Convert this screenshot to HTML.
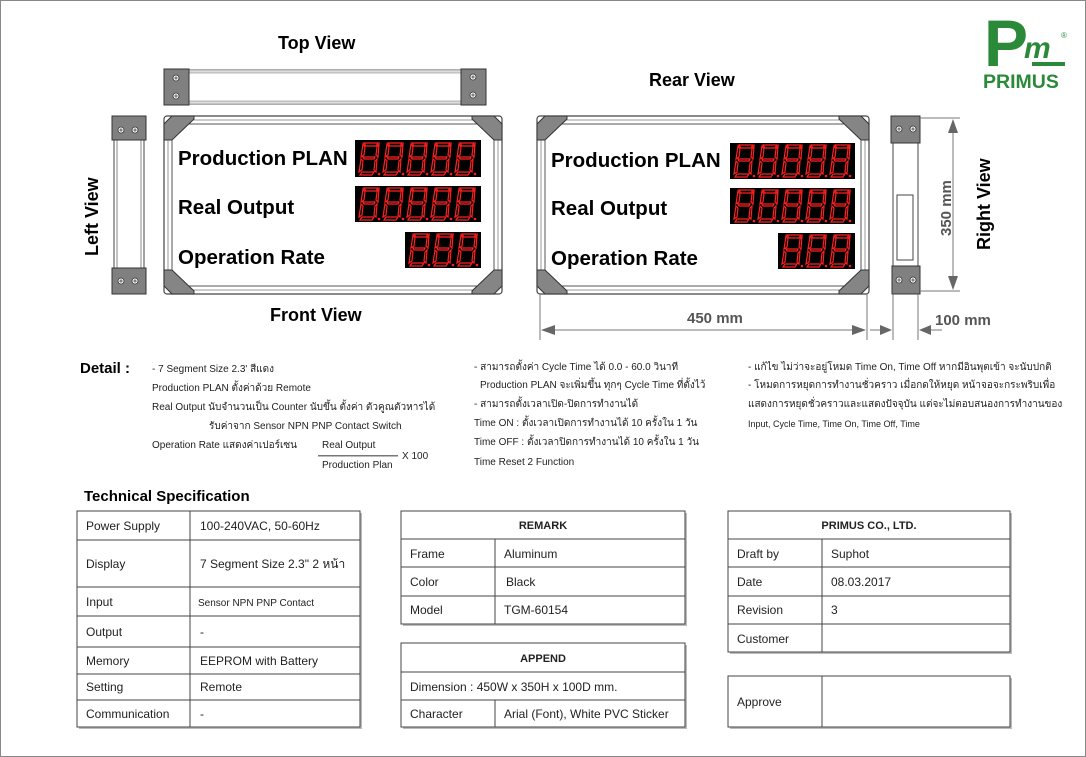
<!DOCTYPE html>
<html><head><meta charset="utf-8"><style>
html,body{margin:0;padding:0;background:#fff}
svg{display:block}
text{font-family:"Liberation Sans",Arial,sans-serif}
</style></head><body>
<svg width="1086" height="757" viewBox="0 0 1086 757" xmlns="http://www.w3.org/2000/svg">
<defs>
<g id="dg">
 <path d="M5,1 L19,1 L17,4 L7,4 Z M4,2 L6,5 L5,13 L2,15 Z M20,2 L18,5 L17,13 L19,15 Z M4,15 L16,15 L15,17 L5,17 Z M2,17 L4,19 L3,28 L0,30 Z M18,17 L16,19 L15,28 L17,30 Z M3,30 L15,30 L13,33 L1,33 Z" fill="none" stroke="#ff2020" stroke-width="1.2"/>
 <circle cx="20" cy="32" r="1.3" fill="#ff2020"/>
</g>
<g id="scr"><circle r="3" fill="#fff" stroke="#333" stroke-width="0.8"/><path d="M-1.8,0 H1.8 M0,-1.8 V1.8" stroke="#333" stroke-width="0.8"/></g>
</defs>
<rect x="0.5" y="0.5" width="1085" height="756" fill="#fff" stroke="#888"/>

<!-- logo -->
<text x="984" y="66" font-family="Liberation Serif,serif" font-weight="bold" font-size="66" fill="#2a8a3a">P</text>
<text x="1024" y="58" font-family="Liberation Serif,serif" font-style="italic" font-weight="bold" font-size="30" fill="#2a8a3a">m</text>
<rect x="1032" y="62" width="33" height="4" fill="#2a8a3a"/>
<text x="1061" y="38" font-size="8" fill="#2a8a3a">®</text>
<text x="983" y="88" font-size="19.5" font-weight="bold" fill="#2a8a3a">PRIMUS</text>

<!-- titles -->
<text x="278" y="49" font-size="18" font-weight="bold">Top View</text>
<text x="649" y="86" font-size="18" font-weight="bold">Rear View</text>
<text x="270" y="321" font-size="18" font-weight="bold">Front View</text>
<text transform="translate(98,256) rotate(-90)" font-size="18" font-weight="bold">Left View</text>
<text transform="translate(990,250) rotate(-90)" font-size="18" font-weight="bold">Right View</text>

<!-- top view -->
<rect x="164" y="70" width="321" height="34" fill="#fff" stroke="#444"/>
<rect x="164" y="70" width="321" height="3" fill="#ddd" stroke="#777" stroke-width="0.5"/>
<rect x="164" y="101" width="321" height="3" fill="#ddd" stroke="#777" stroke-width="0.5"/>
<rect x="164" y="69" width="25" height="36" fill="#808080" stroke="#333"/>
<rect x="461" y="69" width="25" height="36" fill="#808080" stroke="#333"/>
<use href="#scr" x="176" y="78"/><use href="#scr" x="176" y="96"/>
<use href="#scr" x="473" y="77"/><use href="#scr" x="473" y="95"/>

<!-- left view -->
<rect x="114" y="116" width="30" height="178" fill="#fff" stroke="#444"/>
<rect x="117" y="140" width="24" height="128" fill="#fff" stroke="#888"/>
<rect x="112" y="116" width="34" height="24" fill="#808080" stroke="#333"/>
<rect x="112" y="268" width="34" height="26" fill="#808080" stroke="#333"/>
<use href="#scr" x="121" y="130"/><use href="#scr" x="135" y="130"/>
<use href="#scr" x="121" y="281"/><use href="#scr" x="135" y="281"/>

<!-- front frame -->
<g>
<rect x="164" y="116" width="338" height="178" rx="3" fill="#fff" stroke="#444" stroke-width="1.2"/>
<rect x="168" y="120" width="330" height="170" fill="none" stroke="#999"/>
<rect x="172" y="124" width="322" height="162" fill="#fff" stroke="#555"/>
<path d="M164,124 L172,116 L194,116 L194,119 L172,140 L164,140 Z" fill="#858585" stroke="#333"/>
<path d="M502,124 L494,116 L472,116 L472,119 L494,140 L502,140 Z" fill="#858585" stroke="#333"/>
<path d="M164,286 L172,294 L194,294 L194,291 L172,270 L164,270 Z" fill="#858585" stroke="#333"/>
<path d="M502,286 L494,294 L472,294 L472,291 L494,270 L502,270 Z" fill="#858585" stroke="#333"/>
<text x="178" y="165" font-size="20.5" font-weight="bold">Production PLAN</text>
<text x="178" y="214" font-size="20.5" font-weight="bold">Real Output</text>
<text x="178" y="264" font-size="20.5" font-weight="bold">Operation Rate</text>
<rect x="355" y="140" width="126" height="37" fill="#000"/>
<rect x="355" y="186" width="126" height="36" fill="#000"/>
<rect x="405" y="232" width="76" height="36" fill="#000"/>
<g transform="translate(359,142)"><use href="#dg" x="0"/><use href="#dg" x="24"/><use href="#dg" x="48"/><use href="#dg" x="72"/><use href="#dg" x="96"/></g>
<g transform="translate(359,187)"><use href="#dg" x="0"/><use href="#dg" x="24"/><use href="#dg" x="48"/><use href="#dg" x="72"/><use href="#dg" x="96"/></g>
<g transform="translate(409,233)"><use href="#dg" x="0"/><use href="#dg" x="24"/><use href="#dg" x="48"/></g>
</g>

<!-- rear frame -->
<g>
<rect x="537" y="116" width="332" height="178" rx="3" fill="#fff" stroke="#444" stroke-width="1.2"/>
<rect x="541" y="120" width="324" height="170" fill="none" stroke="#999"/>
<rect x="545" y="124" width="316" height="162" fill="#fff" stroke="#555"/>
<path d="M537,124 L545,116 L567,116 L567,119 L545,140 L537,140 Z" fill="#858585" stroke="#333"/>
<path d="M869,124 L861,116 L839,116 L839,119 L861,140 L869,140 Z" fill="#858585" stroke="#333"/>
<path d="M537,286 L545,294 L567,294 L567,291 L545,270 L537,270 Z" fill="#858585" stroke="#333"/>
<path d="M869,286 L861,294 L839,294 L839,291 L861,270 L869,270 Z" fill="#858585" stroke="#333"/>
<text x="551" y="167" font-size="20.5" font-weight="bold">Production PLAN</text>
<text x="551" y="215" font-size="20.5" font-weight="bold">Real Output</text>
<text x="551" y="265" font-size="20.5" font-weight="bold">Operation Rate</text>
<rect x="730" y="143" width="125" height="36" fill="#000"/>
<rect x="730" y="188" width="125" height="36" fill="#000"/>
<rect x="778" y="233" width="77" height="36" fill="#000"/>
<g transform="translate(734,144)"><use href="#dg" x="0"/><use href="#dg" x="24"/><use href="#dg" x="48"/><use href="#dg" x="72"/><use href="#dg" x="96"/></g>
<g transform="translate(734,189)"><use href="#dg" x="0"/><use href="#dg" x="24"/><use href="#dg" x="48"/><use href="#dg" x="72"/><use href="#dg" x="96"/></g>
<g transform="translate(782,234)"><use href="#dg" x="0"/><use href="#dg" x="24"/><use href="#dg" x="48"/></g>
</g>

<!-- right view -->
<rect x="893" y="116" width="25" height="178" fill="#fff" stroke="#444"/>
<rect x="897" y="195" width="16" height="65" fill="#fff" stroke="#444"/>
<rect x="891" y="116" width="29" height="27" fill="#808080" stroke="#333"/>
<rect x="892" y="266" width="28" height="28" fill="#808080" stroke="#333"/>
<use href="#scr" x="899" y="129"/><use href="#scr" x="913" y="129"/>
<use href="#scr" x="899" y="280"/><use href="#scr" x="913" y="280"/>

<!-- dimensions -->
<g stroke="#777" fill="none" stroke-width="1">
<path d="M920,118 H960 M920,291 H960 M953,120 V289"/>
<path d="M540,294 V340 M867,294 V340 M542,330 H865"/>
<path d="M893,294 V340 M918,294 V340 M870,330 H891 M920,330 H942"/>
</g>
<g fill="#666">
<path d="M953,119 L948,133 L958,133 Z"/><path d="M953,290 L948,276 L958,276 Z"/>
<path d="M541,330 L555,325 L555,335 Z"/><path d="M866,330 L852,325 L852,335 Z"/>
<path d="M892,330 L880,325 L880,335 Z"/><path d="M919,330 L931,325 L931,335 Z"/>
</g>
<text transform="translate(951,236) rotate(-90)" font-size="15" font-weight="bold" fill="#555">350 mm</text>
<text x="687" y="323" font-size="15" font-weight="bold" fill="#555">450 mm</text>
<text x="935" y="325" font-size="15" font-weight="bold" fill="#555">100 mm</text>

<!-- detail -->
<g font-family="Liberation Sans,sans-serif" font-size="10" fill="#222">
<text x="80" y="373" font-size="15" font-weight="bold" fill="#000">Detail :</text>
<text x="152" y="372">- 7 Segment Size 2.3' สีแดง</text>
<text x="152" y="391">Production PLAN ตั้งค่าด้วย Remote</text>
<text x="152" y="410">Real Output นับจำนวนเป็น Counter นับขึ้น ตั้งค่า ตัวคูณตัวหารได้</text>
<text x="209" y="429">รับค่าจาก Sensor NPN PNP Contact Switch</text>
<text x="152" y="448">Operation Rate แสดงค่าเปอร์เซน</text>
<text x="322" y="448">Real Output</text>
<rect x="318" y="455" width="80" height="1.5" fill="#777"/>
<text x="402" y="459">X 100</text>
<text x="322" y="468">Production Plan</text>
<text x="474" y="370">- สามารถตั้งค่า Cycle Time ได้ 0.0 - 60.0 วินาที</text>
<text x="480" y="388">Production PLAN จะเพิ่มขึ้น ทุกๆ Cycle Time ที่ตั้งไว้</text>
<text x="474" y="407">- สามารถตั้งเวลาเปิด-ปิดการทำงานได้</text>
<text x="474" y="426">Time ON : ตั้งเวลาเปิดการทำงานได้ 10 ครั้งใน 1 วัน</text>
<text x="474" y="445">Time OFF : ตั้งเวลาปิดการทำงานได้ 10 ครั้งใน 1 วัน</text>
<text x="474" y="465">Time Reset 2 Function</text>
<text x="748" y="370">-  แก้ไข ไม่ว่าจะอยู่โหมด Time On, Time Off หากมีอินพุตเข้า จะนับปกติ</text>
<text x="748" y="388">- โหมดการหยุดการทำงานชั่วคราว เมื่อกดให้หยุด หน้าจอจะกระพริบเพื่อ</text>
<text x="748" y="407">แสดงการหยุดชั่วคราวและแสดงปัจจุบัน แต่จะไม่ตอบสนองการทำงานของ</text>
<text x="748" y="427" font-size="9">Input, Cycle Time, Time On, Time Off, Time</text>
</g>

<text x="84" y="501" font-size="15" font-weight="bold">Technical Specification</text>

<g font-size="12" fill="#222">
<g fill="none" stroke="#444">
<rect x="79" y="513" width="283" height="216" fill="#bbb" stroke="none"/>
<rect x="77" y="511" width="283" height="216" fill="#fff"/>
<path d="M190,511 V727 M77,540 H360 M77,587 H360 M77,616 H360 M77,647 H360 M77,674 H360 M77,700 H360"/>
</g>
<text x="86" y="530">Power Supply</text><text x="200" y="530">100-240VAC, 50-60Hz</text>
<text x="86" y="568">Display</text><text x="200" y="568">7 Segment Size 2.3" 2 หน้า</text>
<text x="86" y="606">Input</text><text x="198" y="606" font-size="10">Sensor NPN PNP Contact</text>
<text x="86" y="636">Output</text><text x="200" y="636">-</text>
<text x="86" y="665">Memory</text><text x="200" y="665">EEPROM with Battery</text>
<text x="86" y="691">Setting</text><text x="200" y="691">Remote</text>
<text x="86" y="718">Communication</text><text x="200" y="718">-</text>

<g fill="none" stroke="#444">
<rect x="403" y="513" width="284" height="113" fill="#bbb" stroke="none"/>
<rect x="401" y="511" width="284" height="113" fill="#fff"/>
<path d="M401,539 H685 M401,567 H685 M401,596 H685 M495,539 V624"/>
</g>
<text x="543" y="529" text-anchor="middle" font-size="11" font-weight="bold">REMARK</text>
<text x="410" y="558">Frame</text><text x="504" y="558">Aluminum</text>
<text x="410" y="586">Color</text><text x="506" y="586">Black</text>
<text x="410" y="614">Model</text><text x="504" y="614">TGM-60154</text>

<g fill="none" stroke="#444">
<rect x="403" y="645" width="284" height="84" fill="#bbb" stroke="none"/>
<rect x="401" y="643" width="284" height="84" fill="#fff"/>
<path d="M401,672 H685 M401,700 H685 M495,700 V727"/>
</g>
<text x="543" y="662" text-anchor="middle" font-size="11" font-weight="bold">APPEND</text>
<text x="410" y="691">Dimension : 450W x 350H x 100D mm.</text>
<text x="410" y="718">Character</text><text x="504" y="718">Arial (Font), White PVC Sticker</text>

<g fill="none" stroke="#444">
<rect x="730" y="513" width="282" height="141" fill="#bbb" stroke="none"/>
<rect x="728" y="511" width="282" height="141" fill="#fff"/>
<path d="M728,539 H1010 M728,567 H1010 M728,596 H1010 M728,624 H1010 M822,539 V652"/>
</g>
<text x="869" y="529" text-anchor="middle" font-size="11" font-weight="bold">PRIMUS CO., LTD.</text>
<text x="737" y="558">Draft by</text><text x="831" y="558">Suphot</text>
<text x="737" y="586">Date</text><text x="831" y="586">08.03.2017</text>
<text x="737" y="614">Revision</text><text x="831" y="614">3</text>
<text x="737" y="643">Customer</text>

<g fill="none" stroke="#444">
<rect x="730" y="678" width="282" height="51" fill="#bbb" stroke="none"/>
<rect x="728" y="676" width="282" height="51" fill="#fff"/>
<path d="M822,676 V727"/>
</g>
<text x="737" y="706">Approve</text>
</g>
</svg>
</body></html>
